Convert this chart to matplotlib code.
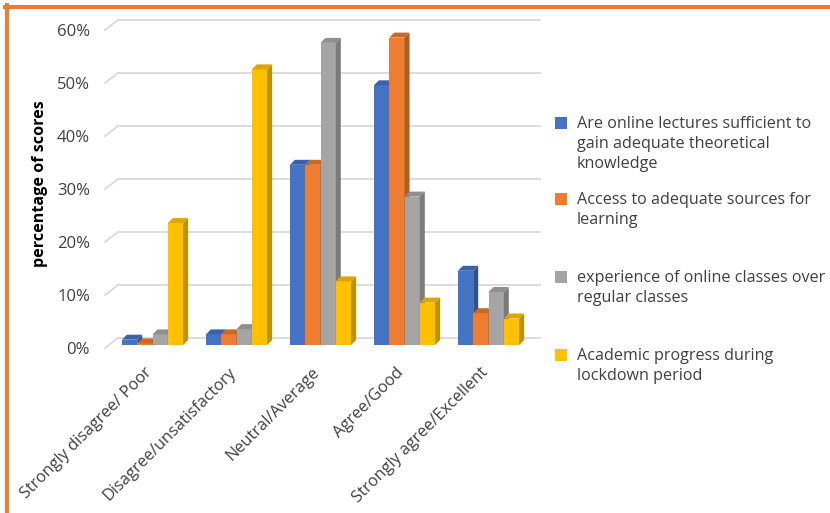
import numpy as np
import matplotlib.pyplot as plt
from matplotlib.patches import Polygon, Rectangle
from matplotlib.lines import Line2D
from matplotlib.transforms import ScaledTranslation

plt.rcParams['font.family'] = ['Open Sans', 'DejaVu Sans']

categories = ['Strongly disagree/ Poor', 'Disagree/unsatisfactory', 'Neutral/Average',
              'Agree/Good', 'Strongly agree/Excellent']
series = ['Are online lectures sufficient to\ngain adequate theoretical\nknowledge',
          'Access to adequate sources for\nlearning',
          'experience of online classes over\nregular classes',
          'Academic progress during\nlockdown period']
lectures = [0.01, 0.02, 0.34, 0.49, 0.14]
sources = [0.003, 0.02, 0.34, 0.58, 0.06]
experience = [0.02, 0.03, 0.57, 0.28, 0.10]
progress = [0.23, 0.52, 0.12, 0.08, 0.05]
yticks = [0, 0.1, 0.2, 0.3, 0.4, 0.5, 0.6]

front = ['#4472C4', '#ED7D31', '#A5A5A5', '#FFC000']
side = ['#2F528F', '#B35A1F', '#7B7B7B', '#BF9000']
top = ['#3A62AC', '#CC6724', '#8F8F8F', '#DCA500']
text_c = '#404040'

W, H = 830, 513
fig = plt.figure(figsize=(W / 100, H / 100), dpi=100)
fig.patch.set_facecolor('white')

# plot area in pixels (left, right, zero line, 60% line)
L, R, Y0, Y60 = 118, 540, 345, 27
ax = fig.add_axes([L / W, 1 - Y0 / H, (R - L) / W, (Y0 - Y60) / H])
xmin, xmax = -(152.5 - L) / 84, 4.613
ax.set_xlim(xmin, xmax)
ax.set_ylim(0, 0.6)
ax.axis('off')

def off(dx, dy):
    return ScaledTranslation(dx / 100, dy / 100, fig.dpi_scale_trans)

# back wall gridlines with the slanted side-wall edge
ytr = ax.get_yaxis_transform()
inv = fig.transFigure.inverted()
for v in yticks:
    ax.plot([0, 1], [v, v], color='#D9D9D9', lw=1.3, transform=ytr + off(0, 7),
            zorder=0, clip_on=False)
    p0 = ax.transData.transform((xmin, v))
    a = inv.transform((p0[0] - 13, p0[1] - 3))
    b = inv.transform((p0[0], p0[1] + 7))
    fig.add_artist(Line2D([a[0], b[0]], [a[1], b[1]], color='#D9D9D9', lw=1.3))
    ax.text(-28 / (R - L), v, f'{int(round(v * 100))}%', transform=ytr + off(0, -5),
            ha='right', va='center', fontsize=12, color=text_c)

# 3d-style clustered columns
bw = 15.3 / 84
dx = 5 / 84
dy = 5 / (Y0 - Y60) * 0.6
x = np.arange(len(categories))
z = 1
for g in range(len(categories)):
    for i, vals in enumerate([lectures, sources, experience, progress]):
        x0 = x[g] - 2 * bw + i * bw
        h = vals[g]
        ax.bar(x0, h, bw, align='edge', color=front[i], zorder=z)
        ax.add_patch(Polygon([(x0 + bw, 0), (x0 + bw, h), (x0 + bw + dx, h + dy), (x0 + bw + dx, dy)],
                             closed=True, facecolor=side[i], edgecolor='none', zorder=z))
        ax.add_patch(Polygon([(x0, h), (x0 + bw, h), (x0 + bw + dx, h + dy), (x0 + dx, h + dy)],
                             closed=True, facecolor=top[i], edgecolor='none', zorder=z))
        z += 1

for g, name in enumerate(categories):
    ax.text(x[g], 0, name, rotation=45, rotation_mode='anchor', ha='right', va='center',
            fontsize=11.8, color=text_c, transform=ax.transData + off(-3, -25))

fig.text(40 / W, 1 - 184 / H, 'percentage of scores', rotation=90, ha='center', va='center',
         fontsize=11.6, fontweight='bold', color='black')

# legend
leg_y = [123, 199, 277, 355]
for i, lab in enumerate(series):
    fig.add_artist(Rectangle((555 / W, 1 - (leg_y[i] + 6) / H), 12 / W, 12 / H,
                             facecolor=front[i], edgecolor='none', transform=fig.transFigure))
    fig.text(577 / W, 1 - (leg_y[i] - 7) / H, lab, ha='left', va='top', fontsize=11.6,
             color=text_c, linespacing=1.34)

# frame
fig.add_artist(Line2D([6.5 / W, 6.5 / W], [0, 1 - 5 / H], color='#ED7D31', lw=2.9))
fig.add_artist(Line2D([5 / W, 1], [1 - 6.5 / H, 1 - 6.5 / H], color='#ED7D31', lw=2.9))

fig.savefig('out.png', dpi=100)
